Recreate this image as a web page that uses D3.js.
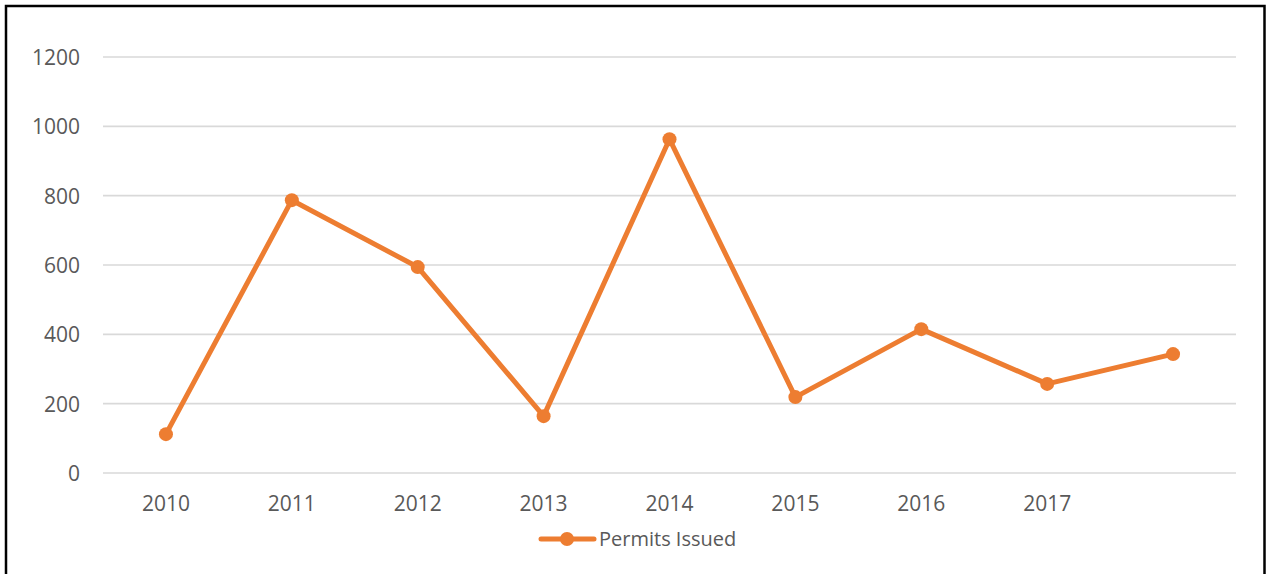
<!DOCTYPE html>
<html>
<head>
<meta charset="utf-8">
<script src="https://cdn.jsdelivr.net/npm/d3@7"></script>
<style>
  html, body { margin: 0; padding: 0; background: #fff; }
  svg { display: block; }
  text { font-family: "Open Sans", "Noto Sans", sans-serif; fill: #595959; }
</style>
</head>
<body>
<svg id="chart" width="1266" height="574"></svg>
<script>
const categories = ["2010", "2011", "2012", "2013", "2014", "2015", "2016", "2017", ""];
const permitsIssued = [112, 787, 594, 164, 963, 219, 415, 257, 343];
const yTicks = [0, 200, 400, 600, 800, 1000, 1200];
const seriesName = "Permits Issued";

const svg = d3.select("#chart");
const W = 1266, H = 574;
const color = "#ED7D31";

// border (bottom cut off)
svg.append("path")
  .attr("d", `M6,${H + 5} L6,6 L1264.5,6 L1264.5,${H + 5}`)
  .attr("fill", "none").attr("stroke", "#000").attr("stroke-width", 2.5);

const x = d3.scaleBand().domain(categories.map((c, i) => i))
  .range([103, 1236]).padding(0);
const y = d3.scaleLinear().domain([0, 1200]).range([473, 57]);

// gridlines
svg.append("g").selectAll("line").data(yTicks).join("line")
  .attr("x1", 103).attr("x2", 1236)
  .attr("y1", d => y(d)).attr("y2", d => y(d))
  .attr("stroke", "#d9d9d9").attr("stroke-width", 1.6);

// y axis labels
const yAxis = d3.axisLeft(y).tickValues(yTicks).tickFormat(d3.format("d")).tickSize(0).tickPadding(0);
const gy = svg.append("g").attr("transform", "translate(80,0)").call(yAxis);
gy.select(".domain").remove();
gy.attr("font-size", 21).attr("font-family", "'Open Sans', sans-serif");
gy.selectAll("text").attr("fill", "#595959").attr("dy", "0.35em");

// x axis labels
const xAxis = d3.axisBottom(x).tickFormat(i => categories[i]).tickSize(0).tickPadding(0);
const gx = svg.append("g").attr("transform", "translate(0,504)").call(xAxis);
gx.select(".domain").remove();
gx.attr("font-size", 21).attr("font-family", "'Open Sans', sans-serif");
gx.selectAll("text").attr("fill", "#595959").attr("dy", "0.35em");

const cx = i => x(i) + x.bandwidth() / 2;

// line
const line = d3.line().x((d, i) => cx(i)).y(d => y(d));
svg.append("path").datum(permitsIssued)
  .attr("d", line).attr("fill", "none")
  .attr("stroke", color).attr("stroke-width", 5)
  .attr("stroke-linejoin", "round").attr("stroke-linecap", "round");

svg.append("g").selectAll("circle").data(permitsIssued).join("circle")
  .attr("cx", (d, i) => cx(i)).attr("cy", d => y(d)).attr("r", 7)
  .attr("fill", color);

// legend
const lg = svg.append("g").attr("transform", "translate(0,539)");
lg.append("line").attr("x1", 541).attr("x2", 594).attr("y1", 0).attr("y2", 0)
  .attr("stroke", color).attr("stroke-width", 5).attr("stroke-linecap", "round");
lg.append("circle").attr("cx", 567).attr("cy", 0).attr("r", 7).attr("fill", color);
lg.append("text").attr("x", 599).attr("y", 0).attr("dy", "0.35em")
  .attr("font-size", 20).text(seriesName);
</script>
</body>
</html>
